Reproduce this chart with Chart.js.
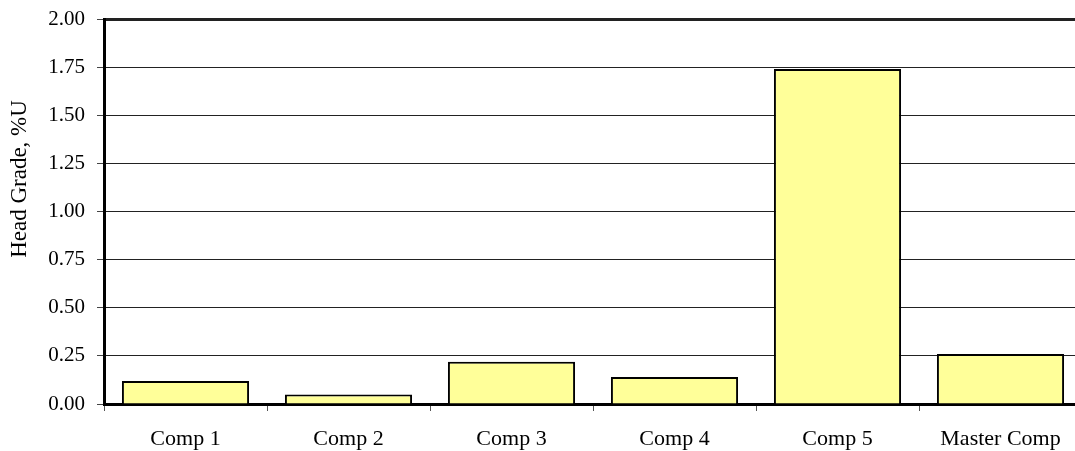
<!DOCTYPE html>
<html>
<head>
<meta charset="utf-8">
<script src="https://cdn.jsdelivr.net/npm/chart.js@4/dist/chart.umd.min.js"></script>
<style>
  html, body { margin: 0; padding: 0; background: #fff; overflow: hidden; }
  #wrap { width: 1090px; height: 451px; }
</style>
</head>
<body>
<div id="wrap"><canvas id="c" width="1090" height="451"></canvas></div>
<script>
// Head grade by composite sample
const categories = ['Comp 1', 'Comp 2', 'Comp 3', 'Comp 4', 'Comp 5', 'Master Comp'];
const headGrade = [0.12, 0.05, 0.22, 0.14, 1.74, 0.26];
const yTickLabels = ['0.00', '0.25', '0.50', '0.75', '1.00', '1.25', '1.50', '1.75', '2.00'];
const yAxisTitle = 'Head Grade, %U';

const SERIF = '"Liberation Serif", "Times New Roman", serif';

// Rotated y-axis title, sitting slightly above the axis midpoint
const yTitlePlugin = {
  id: 'yTitle',
  afterDraw(chart) {
    const ctx = chart.ctx;
    ctx.save();
    ctx.translate(20, 179);
    ctx.rotate(-Math.PI / 2);
    ctx.font = '23px ' + SERIF;
    ctx.fillStyle = '#000';
    ctx.textAlign = 'center';
    ctx.textBaseline = 'middle';
    ctx.fillText(yAxisTitle, 0, 0);
    ctx.restore();
  }
};

new Chart(document.getElementById('c'), {
  type: 'bar',
  data: {
    labels: categories,
    datasets: [{
      data: headGrade,
      backgroundColor: '#FFFF99',
      borderColor: '#000',
      borderWidth: 2,
      barPercentage: 0.78,
      categoryPercentage: 1
    }]
  },
  options: {
    responsive: false,
    animation: false,
    layout: { padding: { top: 19, right: 8, left: 0, bottom: 0 } },
    plugins: {
      legend: { display: false },
      tooltip: { enabled: false }
    },
    scales: {
      x: {
        grid: {
          offset: true,
          drawOnChartArea: false,
          drawTicks: true,
          tickLength: 7,
          tickColor: '#555',
          tickWidth: 1
        },
        border: { display: true, color: '#000', width: 3 },
        ticks: {
          color: '#000',
          font: { family: SERIF, size: 22 },
          padding: 15,
          maxRotation: 0,
          autoSkip: false
        },
        afterFit(axis) {
          axis.height = 47;
          axis.paddingLeft = 0;
          axis.paddingRight = 0;
        }
      },
      y: {
        min: 0,
        max: 2,
        grid: {
          color: '#222',
          lineWidth: (c) => (c.tick && c.tick.value === 2 ? 3 : 1),
          tickLength: 7,
          tickColor: '#444',
          tickWidth: 1
        },
        border: { display: true, color: '#000', width: 3 },
        ticks: {
          stepSize: 0.25,
          color: '#000',
          font: { family: SERIF, size: 21 },
          padding: 12,
          callback: (v, i) => yTickLabels[i]
        },
        afterFit(axis) {
          axis.width = 104;
          axis.paddingTop = 0;
          axis.paddingBottom = 0;
        }
      }
    }
  },
  plugins: [yTitlePlugin]
});
</script>
</body>
</html>
